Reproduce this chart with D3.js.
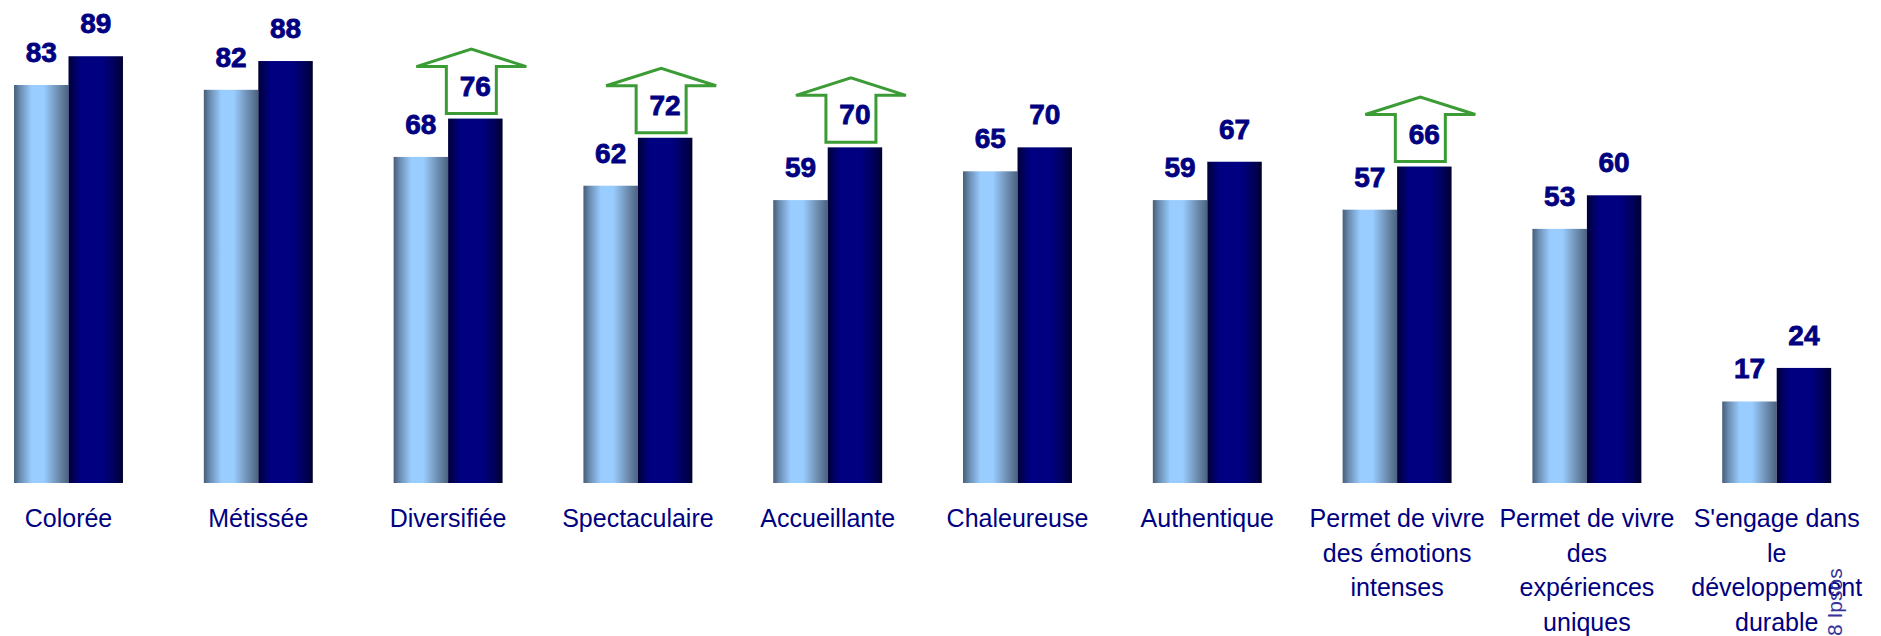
<!DOCTYPE html>
<html>
<head>
<meta charset="utf-8">
<script src="https://cdn.jsdelivr.net/npm/d3@7"></script>
<style>
  html, body { margin: 0; padding: 0; background: #ffffff; }
  svg { display: block; }
</style>
</head>
<body>
<div id="chart"></div>
<script>
// Category labels, one entry per line of the wrapped label
const categories = [
  ["Colorée"],
  ["Métissée"],
  ["Diversifiée"],
  ["Spectaculaire"],
  ["Accueillante"],
  ["Chaleureuse"],
  ["Authentique"],
  ["Permet de vivre", "des émotions", "intenses"],
  ["Permet de vivre", "des", "expériences", "uniques"],
  ["S'engage dans", "le", "développement", "durable"]
];
const seriesPrev = [83, 82, 68, 62, 59, 65, 59, 57, 53, 17];
const seriesCurr = [89, 88, 76, 72, 70, 70, 67, 66, 60, 24];
// Categories whose current value is highlighted with an up arrow
const highlighted = [false, false, true, true, true, false, false, true, false, false];
const footerText = "8 Ipsos";

const W = 1881, H = 636;
const svg = d3.select("#chart").append("svg")
  .attr("width", W).attr("height", H)
  .attr("viewBox", `0 0 ${W} ${H}`);

const defs = svg.append("defs");
function hGradient(id, stops) {
  const g = defs.append("linearGradient").attr("id", id)
    .attr("x1", "0%").attr("x2", "100%").attr("y1", "0%").attr("y2", "0%");
  stops.forEach(([o, c]) => g.append("stop").attr("offset", o).attr("stop-color", c));
}
hGradient("gradLight", [["0%", "#465d78"], ["12%", "#6c8fb4"], ["32%", "#99ccff"], ["55%", "#99ccff"], ["80%", "#6f90b3"], ["100%", "#4a6280"]]);
hGradient("gradDark", [["0%", "#000038"], ["22%", "#000080"], ["62%", "#000080"], ["85%", "#00005a"], ["100%", "#000030"]]);

const idx = d3.range(categories.length);
const x = d3.scaleBand().domain(idx).range([-26.4, 1871.6]).paddingInner(0.426).paddingOuter(0.213);
const xSub = d3.scaleBand().domain([0, 1]).range([0, x.bandwidth()]);
const y = d3.scaleLinear().domain([0, 100]).range([483, 3.5]);

const navy = "#000080";
const groups = svg.append("g").selectAll("g").data(idx).join("g")
  .attr("transform", i => `translate(${x(i)},0)`);

// Bars
groups.append("rect")
  .attr("x", xSub(0)).attr("width", xSub.bandwidth())
  .attr("y", i => y(seriesPrev[i])).attr("height", i => y(0) - y(seriesPrev[i]))
  .attr("fill", "url(#gradLight)");
groups.append("rect")
  .attr("x", xSub(1)).attr("width", xSub.bandwidth())
  .attr("y", i => y(seriesCurr[i])).attr("height", i => y(0) - y(seriesCurr[i]))
  .attr("fill", "url(#gradDark)");

// Up arrows around highlighted values
const arrowShaft = 50, arrowHead = 110;
groups.filter(i => highlighted[i]).append("path")
  .attr("d", i => {
    const cx = xSub(1) + xSub.bandwidth() / 2 - 4;
    const top = y(seriesCurr[i]);
    const bottom = top - 5, base = top - 52, tip = top - 69.5;
    const s = arrowShaft / 2, h = arrowHead / 2;
    return `M${cx - s},${bottom} L${cx - s},${base} L${cx - h},${base} L${cx},${tip} ` +
           `L${cx + h},${base} L${cx + s},${base} L${cx + s},${bottom} Z`;
  })
  .attr("fill", "#ffffff")
  .attr("stroke", "#3b9b35")
  .attr("stroke-width", 3)
  .attr("stroke-linejoin", "miter");

// Value labels
function valueLabels(values, sub) {
  groups.append("text")
    .attr("x", xSub(sub) + xSub.bandwidth() / 2)
    .attr("y", i => y(values[i]) - 23)
    .attr("text-anchor", "middle")
    .attr("fill", navy)
    .attr("stroke", navy)
    .attr("stroke-width", 0.8)
    .attr("font-family", "'Liberation Sans', Arial, sans-serif")
    .attr("font-weight", "bold")
    .attr("font-size", "28px")
    .text(i => values[i]);
}
valueLabels(seriesPrev, 0);
valueLabels(seriesCurr, 1);

// Category labels
const catText = groups.append("text")
  .attr("x", x.bandwidth() / 2)
  .attr("y", 527)
  .attr("text-anchor", "middle")
  .attr("fill", navy)
  .attr("font-family", "'Liberation Sans', Arial, sans-serif")
  .attr("font-size", "25px");
catText.selectAll("tspan").data(i => categories[i]).join("tspan")
  .attr("x", x.bandwidth() / 2)
  .attr("dy", (d, k) => k === 0 ? 0 : 34.5)
  .text(d => d);

// Vertical footer
svg.append("text")
  .attr("transform", `translate(1842,636) rotate(-90)`)
  .attr("fill", "#333399")
  .attr("font-family", "'Liberation Sans', Arial, sans-serif")
  .attr("font-size", "21px")
  .text(footerText);
</script>
</body>
</html>
